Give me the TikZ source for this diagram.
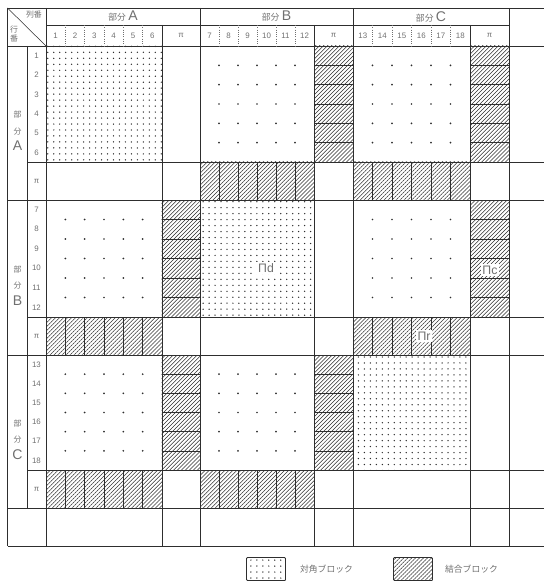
\documentclass[tikz,border=0pt]{standalone}
\usepackage{fontspec}
\setmainfont{Liberation Sans}
\newfontfamily\jp{Noto Sans CJK JP}
\usetikzlibrary{patterns.meta,positioning}
\definecolor{inkgray}{HTML}{2E2E2E}
\definecolor{scangray}{HTML}{707070}
\newcommand{\jpsmall}{\jp\fontsize{4.5}{5}\selectfont}

\begin{document}
\begin{tikzpicture}[
    x=0.02cm, y=-0.02cm,
    font=\tiny,
    rule/.style={draw=inkgray, line width=0.55pt},
    subrule/.style={draw=inkgray, line width=0.3pt},
    seprule/.style={draw=scangray, line width=0.3pt, densely dotted},
    diagblock/.style={pattern={Dots[distance=3.4pt, radius=0.42pt]}, pattern color=inkgray},
    coupling/.style={pattern={Lines[angle=45, distance=1.6pt, line width=0.3pt]}, pattern color=inkgray},
    gridmark/.style={fill=inkgray},
    numlabel/.style={text=scangray, font=\fontsize{4.5}{5}\selectfont, inner sep=0pt},
    grouplabel/.style={text=scangray, font=\footnotesize, inner sep=0pt},
    pilabel/.style={text=scangray, font=\scriptsize, fill=white, inner sep=1pt},
    keybox/.style={draw=inkgray, line width=0.5pt, minimum width=0.78cm, minimum height=0.46cm, rounded corners=0.5pt},
    keytext/.style={text=scangray, font=\jp\fontsize{5}{6}\selectfont, anchor=west},
]
    \useasboundingbox (0,0) rectangle (544,584);

    % =====================================================================
    % BLOCKS: diagonal (dots), coupling (hatched), others (grid marks)
    % =====================================================================
    \foreach \rs/\re/\rx [count=\i] in {46/162/200, 200/317/355, 355/470/508} {
        \foreach \cs/\ce/\cx [count=\j] in {46/162/200, 200/314/353, 353/470/509} {
            \ifnum\i=\j
                \fill[diagblock] (\cs,\rs) rectangle (\ce,\re);
            \else
                % marks at the inner grid points
                \foreach \cc in {1,...,5} {
                    \foreach \rr in {1,...,5} {
                        \fill[gridmark] ({\cs+\cc*(\ce-\cs)/6},{\rs+\rr*(\re-\rs)/6}) circle (0.55pt);
                    }
                }
                % coupling column and coupling row
                \fill[coupling] (\cx-38.5,\rs) rectangle (\cx,\re);
                \fill[coupling] (\cs,\re) rectangle (\ce,\rx);
                \foreach \rr in {1,...,5}
                    \draw[subrule] (\cx-38.5,{\rs+\rr*(\re-\rs)/6}) -- (\cx,{\rs+\rr*(\re-\rs)/6});
                \foreach \cc in {1,...,5}
                    \draw[subrule] ({\cs+\cc*(\ce-\cs)/6},\re) -- ({\cs+\cc*(\ce-\cs)/6},\rx);
            \fi
        }
    }

    % labels inside the blocks of B
    \node[pilabel] (pid) at (266,268) {Πd};
    \node[pilabel] (pic) at (490,270) {Πc};
    \node[pilabel] (pir) at (424,336) {Πr};

    % =====================================================================
    % TABLE RULES
    % =====================================================================
    \foreach \y in {8, 46, 200, 355, 508, 546}
        \draw[rule] (7.5,\y) -- (544,\y);
    \foreach \y in {162, 317, 470}
        \draw[rule] (27,\y) -- (544,\y);
    \draw[rule] (46,25) -- (509,25);

    \foreach \x in {7.5, 46, 200, 353, 509}
        \draw[rule] (\x,8) -- (\x,546);
    \foreach \x in {162, 314, 470}
        \draw[rule] (\x,25) -- (\x,546);
    \draw[rule] (27,46) -- (27,508);

    % corner cell
    \draw[subrule] (7.5,8) -- (46,46);
    \node[numlabel, font=\jpsmall] (colkey) at (34,15) {列番};
    \node[numlabel, font=\jpsmall, align=center] (rowkey) at (14,34) {行\\番};

    % =====================================================================
    % HEADERS: groups, column numbers, row numbers
    % =====================================================================
    \foreach \g/\cs/\ce/\cx/\rs/\re/\rx [count=\j] in {A/46/162/200/46/162/200, B/200/314/353/200/317/355, C/353/470/509/355/470/508} {
        \node[grouplabel] (colgrp\g) at ({(\cs+\cx)/2},16.5) {{\jp\fontsize{5}{6}\selectfont 部分}\,\g};
        \node[grouplabel, align=center] (rowgrp\g) at (17.5,{(\rs+\rx)/2+8}) {{\jpsmall 部}\\{\jpsmall 分}\\\g};
        \foreach \cc in {1,...,6} {
            \pgfmathtruncatemacro\n{\cc+6*(\j-1)}
            \node[numlabel] (colnum\n) at ({\cs+(\cc-0.5)*(\ce-\cs)/6},35.5) {\n};
            \node[numlabel] (rownum\n) at (36.5,{\rs+(\cc-0.5)*(\re-\rs)/6}) {\n};
        }
        \foreach \cc in {1,...,5}
            \draw[seprule] ({\cs+\cc*(\ce-\cs)/6},25) -- ({\cs+\cc*(\ce-\cs)/6},46);
        \node[numlabel] (colpi\g) at ({(\ce+\cx)/2},35.5) {π};
        \node[numlabel] (rowpi\g) at (36.5,{(\re+\rx)/2}) {π};
    }

    % =====================================================================
    % LEGEND
    % =====================================================================
    \node[keybox, diagblock] (keydiag) at (266,569) {};
    \node[keytext, right=1.6mm of keydiag] (keydiagtext) {対角ブロック};
    \node[keybox, coupling] (keycoup) at (413,569) {};
    \node[keytext, right=1.2mm of keycoup] (keycouptext) {結合ブロック};

\end{tikzpicture}
\end{document}
